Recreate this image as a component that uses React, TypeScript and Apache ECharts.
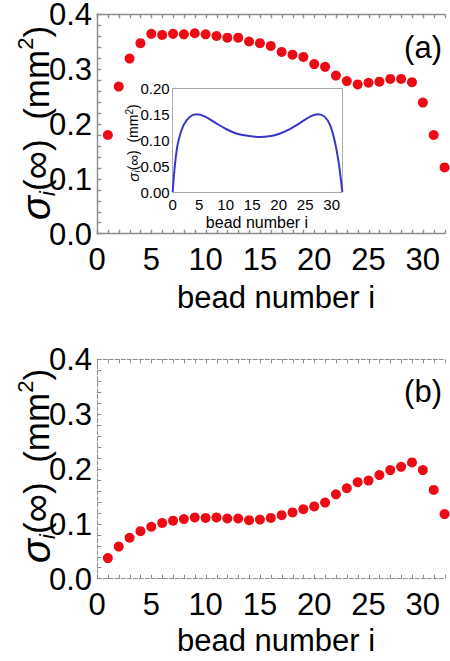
import React, { useEffect, useRef } from "react";
import * as echarts from "echarts";

// ---- data ----
const beads = [1, 2, 3, 4, 5, 6, 7, 8, 9, 10, 11, 12, 13, 14, 15, 16, 17, 18, 19, 20, 21, 22, 23, 24, 25, 26, 27, 28, 29, 30, 31, 32];
const sigmaA = [0.18, 0.268, 0.319, 0.347, 0.364, 0.362, 0.364, 0.363, 0.365, 0.363, 0.36, 0.357, 0.357, 0.35, 0.347, 0.342, 0.331, 0.326, 0.322, 0.309, 0.304, 0.288, 0.278, 0.272, 0.275, 0.277, 0.282, 0.282, 0.276, 0.239, 0.18, 0.121];
const sigmaB = [0.038, 0.059, 0.075, 0.087, 0.095, 0.102, 0.106, 0.109, 0.112, 0.111, 0.112, 0.11, 0.11, 0.107, 0.108, 0.111, 0.116, 0.121, 0.127, 0.132, 0.139, 0.154, 0.165, 0.176, 0.179, 0.189, 0.198, 0.204, 0.212, 0.198, 0.162, 0.118];
const insetX = [0, 0.4, 1, 2, 3.2, 4.5, 6, 8, 10, 12, 14.5, 16.5, 18.5, 20, 22, 24, 26, 27.5, 28.7, 29.7, 30.6, 31.3, 32];
const insetY = [0, 0.05, 0.095, 0.128, 0.145, 0.15, 0.146, 0.134, 0.122, 0.113, 0.108, 0.106, 0.108, 0.112, 0.121, 0.133, 0.146, 0.15, 0.145, 0.129, 0.097, 0.058, 0];
const xTitle = "bead number i";
const panelLabels = ["(a)", "(b)"];

const FONT = "Liberation Sans, Arial, sans-serif";
const GRAY = "#8c8c8c";
const RED = "#ee0a14";

const isMult = (v: number, step: number) => Math.abs(v / step - Math.round(v / step)) < 1e-6;

function yTitle(x: number, y: number, big: number, sig: number, small: number, lh: number) {
  return {
    type: "text",
    x,
    y,
    rotation: Math.PI / 2,
    style: {
      text: "{s|σ}{i|i}{n|(}{o|∞}{n|)  (mm}{p|2}{n|)}",
      align: "center",
      verticalAlign: "middle",
      fill: "#000",
      rich: {
        s: { fontSize: sig, fontStyle: "italic", fontFamily: FONT, lineHeight: lh, fill: "#000" },
        i: { fontSize: small, fontStyle: "italic", fontFamily: FONT, verticalAlign: "bottom", lineHeight: small, fill: "#000" },
        n: { fontSize: big, fontFamily: FONT, lineHeight: lh, fill: "#000" },
        o: { fontSize: sig, fontFamily: FONT, lineHeight: lh, fill: "#000" },
        p: { fontSize: small, fontFamily: FONT, verticalAlign: "top", lineHeight: small, fill: "#000" },
      },
    },
  };
}

function mainX(grid: number) {
  return {
    type: "value",
    gridIndex: grid,
    min: 0,
    max: 32.5,
    interval: 5,
    position: "bottom",
    axisLine: { show: false },
    axisTick: { show: false },
    splitLine: { show: false },
    axisLabel: {
      fontSize: 31,
      fontFamily: FONT,
      color: "#000",
      margin: 10,
      showMaxLabel: false,
      formatter: (v: number) => (isMult(v, 5) && v <= 30 ? String(Math.round(v)) : ""),
    },
  };
}

function mainY(grid: number) {
  return {
    type: "value",
    gridIndex: grid,
    min: 0,
    max: 0.4,
    interval: 0.1,
    position: "left",
    axisLine: { show: false },
    axisTick: { show: false },
    splitLine: { show: false },
    axisLabel: {
      fontSize: 31,
      lineHeight: 22,
      fontFamily: FONT,
      color: "#000",
      margin: 5,
      formatter: (v: number) => v.toFixed(1),
    },
  };
}

// frame axes on overlay grids: variant 0 = thicker solid, variant 1 = fine dash pattern
const frameStyle = (variant: number) =>
  variant === 0
    ? { color: GRAY, width: 1.4, type: "solid" }
    : { color: GRAY, width: 1, type: "dashed", dashOffset: 0 };
const frameLine = (variant: number) => ({ show: true, onZero: false, lineStyle: frameStyle(variant) });
const frameTick = (variant: number) => ({ show: true, inside: true, length: 4, lineStyle: { ...frameStyle(variant), type: "solid" } });
function frameX(grid: number, variant: number) {
  return ["bottom", "top"].map((pos) => ({
    type: "value",
    gridIndex: grid,
    min: 0,
    max: 32,
    interval: 1,
    position: pos,
    axisLine: frameLine(variant),
    axisTick: frameTick(variant),
    splitLine: { show: false },
    axisLabel: { show: false },
  }));
}
function frameY(grid: number, variant: number) {
  return {
    type: "value",
    gridIndex: grid,
    min: 0,
    max: 0.4,
    interval: 0.02,
    position: "left",
    axisLine: frameLine(variant),
    axisTick: frameTick(variant),
    splitLine: { show: false },
    axisLabel: { show: false },
  };
}

const dotted = () => ({ show: true, onZero: false, lineStyle: { color: "#999999", width: 1, type: "dotted" } });

export default function App() {
  const ref = useRef<HTMLDivElement>(null);
  useEffect(() => {
    if (!ref.current) return;
    const chart = echarts.init(ref.current, null, { renderer: "svg" });
    const option: any = {
      animation: false,
      grid: [
        { left: 97, top: 14, right: 0, height: 220, outerBoundsMode: "none", containLabel: false },
        { left: 97, top: 359, right: 0, height: 220, outerBoundsMode: "none", containLabel: false },
        { left: 172.7, top: 88.4, width: 169.6, height: 103.6, outerBoundsMode: "none", containLabel: false },
        { left: 97.3, top: 14.3, width: 347.5, height: 219.4, outerBoundsMode: "none", containLabel: false },
        { left: 97.3, top: 359.3, width: 347.5, height: 219.4, outerBoundsMode: "none", containLabel: false },
      ],
      xAxis: [
        mainX(0),
        mainX(1),
        {
          type: "value",
          gridIndex: 2,
          min: 0,
          max: 32,
          interval: 5,
          position: "bottom",
          axisLine: dotted(),
          axisTick: { show: false },
          splitLine: { show: false },
          axisLabel: {
            fontSize: 15,
            fontFamily: FONT,
            color: "#000",
            margin: 5,
            formatter: (v: number) => (isMult(v, 5) && v <= 30 ? String(v) : ""),
          },
        },
        {
          type: "value",
          gridIndex: 2,
          min: 0,
          max: 32,
          interval: 5,
          position: "top",
          axisLine: dotted(),
          axisTick: { show: false },
          splitLine: { show: false },
          axisLabel: { show: false },
        },
        ...frameX(3, 0),
        ...frameX(4, 1),
      ],
      yAxis: [
        mainY(0),
        mainY(1),
        {
          type: "value",
          gridIndex: 2,
          min: 0,
          max: 0.2,
          interval: 0.05,
          position: "left",
          axisLine: dotted(),
          axisTick: { show: false },
          splitLine: { show: false },
          axisLabel: {
            fontSize: 15,
            fontFamily: FONT,
            color: "#000",
            margin: 3,
            formatter: (v: number) => v.toFixed(2),
          },
        },
        {
          type: "value",
          gridIndex: 2,
          min: 0,
          max: 0.2,
          interval: 0.05,
          position: "right",
          axisLine: dotted(),
          axisTick: { show: false },
          splitLine: { show: false },
          axisLabel: { show: false },
        },
        frameY(3, 0),
        frameY(4, 1),
      ],
      series: [
        {
          type: "scatter",
          xAxisIndex: 0,
          yAxisIndex: 0,
          symbolSize: 10,
          itemStyle: { color: RED, opacity: 1 },
          data: beads.map((b, k) => [b, sigmaA[k]]),
          z: 3,
        },
        {
          type: "scatter",
          xAxisIndex: 1,
          yAxisIndex: 1,
          symbolSize: 10,
          itemStyle: { color: RED, opacity: 1 },
          data: beads.map((b, k) => [b, sigmaB[k]]),
        },
        {
          type: "line",
          xAxisIndex: 2,
          yAxisIndex: 2,
          smooth: 0.35,
          showSymbol: false,
          lineStyle: { color: "#3a36c8", width: 2 },
          data: insetX.map((x, k) => [x, insetY[k]]),
          z: 5,
        },
      ],
      graphic: [
        yTitle(36, 123, 35, 40, 22, 44),
        yTitle(36, 466, 35, 40, 22, 44),
        yTitle(133, 143, 14, 15, 10, 17),
        {
          type: "text",
          x: 276,
          y: 297,
          style: { text: xTitle, font: `31px ${FONT}`, fill: "#000", align: "center", verticalAlign: "middle" },
        },
        {
          type: "text",
          x: 276,
          y: 640,
          style: { text: xTitle, font: `31px ${FONT}`, fill: "#000", align: "center", verticalAlign: "middle" },
        },
        {
          type: "text",
          x: 257,
          y: 222,
          z: 10,
          style: { text: xTitle, font: `16px ${FONT}`, fill: "#000", align: "center", verticalAlign: "middle" },
        },
        {
          type: "text",
          x: 423,
          y: 47,
          style: { text: panelLabels[0], font: `31px ${FONT}`, fill: "#000", align: "center", verticalAlign: "middle" },
        },
        {
          type: "text",
          x: 423,
          y: 391,
          style: { text: panelLabels[1], font: `31px ${FONT}`, fill: "#000", align: "center", verticalAlign: "middle" },
        },
      ],
    };
    chart.setOption(option);
    return () => chart.dispose();
  }, []);
  return <div ref={ref} style={{ width: 450, height: 661, position: "absolute", left: 0, top: 0 }} />;
}
